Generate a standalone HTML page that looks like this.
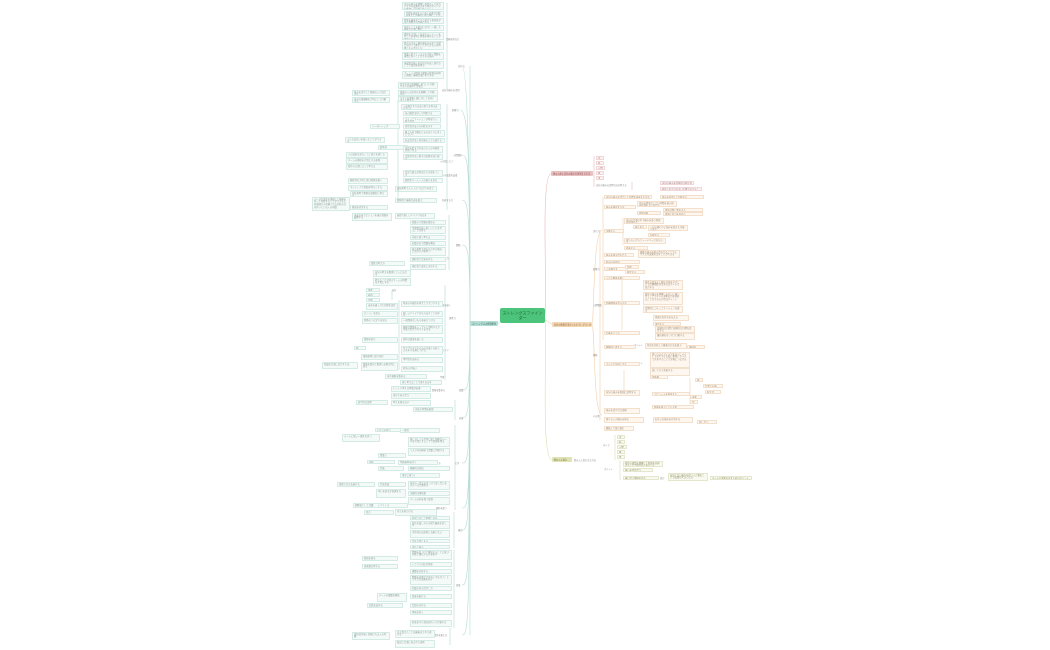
<!DOCTYPE html>
<html><head><meta charset="utf-8">
<style>
html,body{margin:0;padding:0;background:#fff;width:1050px;height:650px;overflow:hidden;position:relative}
svg{position:absolute;left:0;top:0}
text{font-family:"Liberation Sans","Noto Sans CJK JP",sans-serif;fill:#888;font-size:2.2px}
.b{position:absolute;box-sizing:border-box;overflow:hidden;font-family:"Liberation Sans","Noto Sans CJK JP",sans-serif;font-size:2.3px;line-height:2.7px;color:#8a9a96;padding:.5px 1px;border-radius:.6px;word-break:break-all}
.g{background:#f4faf8;border:.4px solid #d3ebe4}
.o{background:#fdf7f0;border:.4px solid #f3e0cc;color:#a08a70}
.r{background:#fcf4f4;border:.4px solid #f0d6d6;color:#a07a7a}
.y{background:#f8f9ef;border:.4px solid #e4e7cb;color:#8a8c60}
.lg{stroke:#b4ddd4;fill:none;stroke-width:.6}
.lo{stroke:#f2cfaa;fill:none;stroke-width:.6}
.lr{stroke:#eab9b9;fill:none;stroke-width:.6}
.ly{stroke:#d9deb0;fill:none;stroke-width:.6}
</style></head><body>
<svg width="1050" height="650" viewBox="0 0 1050 650" xmlns="http://www.w3.org/2000/svg">
<path class="lg" d="M500 323 C485 323 485 323 470 323"/>
<path class="lg" d="M470 66 L470 635"/>
<path class="lg" d="M470 323 C470 200 468 66 462 66 M470 323 C470 150 468 110 460 110 M470 323 C470 160 468 155 462 155 M470 323 C470 210 468 200 462 200 M470 323 C470 250 468 245 462 245 M470 323 C470 390 468 390 462 390 M470 323 C470 415 468 418 462 418 M470 323 C470 463 468 463 462 463 M470 323 C470 508 468 508 462 508 M470 323 C470 530 468 530 462 530 M470 323 C470 582 468 585 462 585 M470 323 C470 635 468 635 462 635"/>
<path class="lg" d="M447 3 L447 90 M398 100 L398 200 M447 104 L447 210 M449 215 L449 270 M445 285 L445 380 M399 300 L399 370 M455 400 L455 420 M455 425 L455 510 M454 512 L454 548 M454 550 L454 628 M450 628 L450 645 M392 290 L392 300"/>
<path class="lr" d="M545 314 C548 300 540 175 551 174"/>
<path class="lr" d="M594 156 L594 187 M632 182 L632 190"/>
<path class="lo" d="M545 320 L552 324"/>
<path class="lo" d="M592 325 C594 325 593 230 602 230 M592 325 C595 325 593 415 602 415 M600 230 L600 420 M603 197 L603 340 M623 218 L623 245 M622 278 L622 330 M624 370 L624 395 M690 378 L690 404"/>
<path class="ly" d="M545 318 C548 330 540 460 552 460"/>
<path class="ly" d="M615 435 L615 460 M620 460 L620 480"/>
<rect x="500" y="308" width="45" height="15" rx="2" fill="#4dc47b"/>
<text x="522.5" y="314.5" text-anchor="middle" style="font-size:4px;fill:#1f5e36">ストレングスファイン</text>
<text x="522.5" y="319.5" text-anchor="middle" style="font-size:4px;fill:#1f5e36">ダー</text>
<rect x="470" y="321" width="28" height="5" rx="1" fill="#b4ddd4"/>
<text x="472" y="324.6" style="fill:#3c6e63">ストレングスの資質解説</text>
<rect x="551" y="171" width="42" height="5" rx="1" fill="#e8c2c2"/>
<text x="553" y="174.5" style="fill:#8a4a4a">他の人達に自分の強みを説明する方法</text>
<rect x="552" y="322" width="40" height="5" rx="1" fill="#f3d8b6"/>
<text x="554" y="325.6" style="fill:#8a5a2a">自分の資質を活かしたどうして行くか</text>
<rect x="552" y="457" width="20" height="5" rx="1" fill="#dfe3b4"/>
<text x="554" y="460.6" style="fill:#6a6e3a">他の人と協力</text>
<g>
<text x="458" y="67">実行力</text><text x="446" y="40">信頼を得る力</text><text x="442" y="91">自分の強みを活用</text><text x="452" y="111">影響力</text><text x="453" y="156">人間関係</text><text x="440" y="162">人の役に立つ</text><text x="442" y="176">人の成長を支援</text><text x="442" y="201">分析する力</text><text x="456" y="246">戦略</text><text x="440" y="259">考える力</text><text x="449" y="319">思考力</text><text x="392" y="291">自分</text><text x="440" y="306">未来を描く</text><text x="440" y="351">アイデア</text><text x="440" y="378">学習</text><text x="432" y="391">情報を集める</text><text x="459" y="391">収集</text><text x="459" y="419">内省</text><text x="455" y="464">公平</text><text x="432" y="464">判断する</text><text x="436" y="509">調和を保つ</text><text x="458" y="531">適応</text><text x="456" y="586">回復</text><text x="440" y="581">問題解決</text><text x="434" y="636">責任を果たす</text>
<text x="593" y="232">実行力</text><text x="593" y="270">影響力</text><text x="593" y="306">人間関係</text><text x="593" y="356">戦略</text><text x="593" y="417">その他</text><text x="634" y="346">ポイント</text><text x="634" y="364">ポイント</text>
<text x="596" y="186">自分の強みの説明方法を考える</text><text x="574" y="461">他の人と協力する方法</text><text x="603" y="446">タイプ</text><text x="604" y="470">ポイント</text><text x="660" y="479">協力</text>
</g>
</svg>
<div class="b g" style="left:402px;top:2px;width:42px;height:8px">自分の強みを理解し周囲の人と協力しながら成果を出すためのポイントを整理して行動に移していく</div>
<div class="b g" style="left:404px;top:11px;width:40px;height:6px">目標を達成するために必要な行動を考えて計画的に取り組むことができる</div>
<div class="b g" style="left:402px;top:18px;width:42px;height:6px">物事を最後までやり遂げる責任感があり周囲から信頼される</div>
<div class="b g" style="left:402px;top:25px;width:42px;height:6px">決めたことを確実に実行し一貫した姿勢で仕事に臨む</div>
<div class="b g" style="left:402px;top:32px;width:42px;height:8px">規律を大切にし日々のルーティンを作って効率的に物事を進めることが得意である</div>
<div class="b g" style="left:402px;top:41px;width:42px;height:9px">集中力が高く優先順位を決めて目標に向かって進むことができる人の特徴とその活かし方</div>
<div class="b g" style="left:402px;top:52px;width:42px;height:8px">慎重に考えてリスクを予測し問題を未然に防ぐことができる強み</div>
<div class="b g" style="left:402px;top:61px;width:42px;height:8px">達成欲が強く毎日何かを成し遂げることで満足感を得る</div>
<div class="b g" style="left:402px;top:71px;width:42px;height:8px">アレンジが得意で複数の物事を同時に調整し最適な形にまとめる</div>
<div class="b g" style="left:398px;top:82px;width:40px;height:7px">信念を持ち価値観に基づいて行動する人の強みと注意点</div>
<div class="b g" style="left:398px;top:90px;width:40px;height:6px">周囲の人の気持ちを理解して行動する</div>
<div class="b g" style="left:398px;top:96px;width:40px;height:6px">公平さを重視し誰に対しても同じように接する</div>
<div class="b g" style="left:352px;top:90px;width:38px;height:6px">強みを活かして周囲の人と協力する</div>
<div class="b g" style="left:352px;top:97px;width:38px;height:6px">自分の価値観を大切にして行動する</div>
<div class="b g" style="left:401px;top:104px;width:40px;height:6px">人を動かす力があり周りを巻き込んでいく</div>
<div class="b g" style="left:403px;top:111px;width:38px;height:5px">自己確信を持って判断する</div>
<div class="b g" style="left:403px;top:117px;width:38px;height:6px">コミュニケーションが得意で人前で話す</div>
<div class="b g" style="left:403px;top:124px;width:38px;height:5px">指令性があり方向性を示す</div>
<div class="b g" style="left:370px;top:124px;width:30px;height:5px">リーダーシップ</div>
<div class="b g" style="left:403px;top:130px;width:42px;height:7px">最上志向で優れたものをさらに良くしていく</div>
<div class="b g" style="left:403px;top:138px;width:42px;height:5px">社交性が高く初対面の人とも話せる</div>
<div class="b g" style="left:345px;top:137px;width:40px;height:6px">人との出会いを楽しむことができる</div>
<div class="b g" style="left:378px;top:145px;width:30px;height:5px">競争性</div>
<div class="b g" style="left:403px;top:146px;width:40px;height:7px">成長を促す力がありの人の可能性を見つける</div>
<div class="b g" style="left:403px;top:154px;width:40px;height:6px">共感性が高く相手の感情を感じ取る</div>
<div class="b g" style="left:346px;top:152px;width:42px;height:6px">人の成長を見ることに喜びを感じる</div>
<div class="b g" style="left:346px;top:158px;width:42px;height:6px">チームの調和を大切にする姿勢</div>
<div class="b g" style="left:346px;top:164px;width:42px;height:6px">相手の立場に立って考える</div>
<div class="b g" style="left:403px;top:170px;width:40px;height:7px">包含で誰もが参加できる場をつくる</div>
<div class="b g" style="left:403px;top:178px;width:40px;height:5px">個別化で一人一人の違いを見る</div>
<div class="b g" style="left:348px;top:178px;width:40px;height:6px">親密性を大切に深い関係を築く</div>
<div class="b g" style="left:348px;top:185px;width:40px;height:6px">ポジティブで周囲を明るくする</div>
<div class="b g" style="left:395px;top:186px;width:42px;height:6px">運命思考で人と人のつながりを信じる</div>
<div class="b g" style="left:350px;top:191px;width:38px;height:6px">分析思考で物事を論理的に考える</div>
<div class="b g" style="left:312px;top:197px;width:38px;height:14px">データや事実を重視して根拠を持って判断することができるため周囲から信頼される分析の力を持っている人の特徴</div>
<div class="b g" style="left:350px;top:205px;width:38px;height:5px">原因を追究する</div>
<div class="b g" style="left:395px;top:198px;width:42px;height:5px">戦略性で最適な道を選ぶ</div>
<div class="b g" style="left:352px;top:213px;width:40px;height:8px">未来志向でビジョンを描き周囲を鼓舞する</div>
<div class="b g" style="left:395px;top:213px;width:40px;height:6px">着想で新しいアイデアを出す</div>
<div class="b g" style="left:410px;top:220px;width:36px;height:5px">収集心で情報を集める</div>
<div class="b g" style="left:410px;top:226px;width:36px;height:8px">学習欲が強く新しいことを学ぶことが好き</div>
<div class="b g" style="left:410px;top:235px;width:36px;height:5px">内省で深く考える</div>
<div class="b g" style="left:410px;top:241px;width:36px;height:5px">回復志向で問題を解決</div>
<div class="b g" style="left:410px;top:247px;width:36px;height:9px">原点思考で過去から学び現在に活かす力を持つ</div>
<div class="b g" style="left:410px;top:257px;width:36px;height:5px">調和性で合意を作る</div>
<div class="b g" style="left:410px;top:264px;width:36px;height:6px">適応性で変化に対応する</div>
<div class="b g" style="left:369px;top:261px;width:36px;height:5px">柔軟な考え方</div>
<div class="b g" style="left:373px;top:270px;width:38px;height:7px">自分の考えを整理して人に伝える</div>
<div class="b g" style="left:373px;top:278px;width:38px;height:8px">考えることが好きで一人の時間を大切にする</div>
<div class="b g" style="left:366px;top:288px;width:14px;height:4px">思考</div>
<div class="b g" style="left:366px;top:293px;width:14px;height:4px">着想</div>
<div class="b g" style="left:366px;top:298px;width:14px;height:4px">学習</div>
<div class="b g" style="left:366px;top:303px;width:32px;height:7px">未来を描く力で目標を設定</div>
<div class="b g" style="left:401px;top:301px;width:42px;height:6px">将来の可能性を考えてワクワクする</div>
<div class="b g" style="left:362px;top:311px;width:36px;height:6px">ビジョンを語る</div>
<div class="b g" style="left:401px;top:311px;width:42px;height:6px">新しいアイデアを生み出すことが好き</div>
<div class="b g" style="left:362px;top:318px;width:36px;height:6px">物事のつながりを見る</div>
<div class="b g" style="left:401px;top:318px;width:42px;height:6px">一見関係ないものを結びつける</div>
<div class="b g" style="left:401px;top:325px;width:42px;height:9px">複雑な問題をシンプルに説明する力がありわかりやすく伝える</div>
<div class="b g" style="left:362px;top:337px;width:36px;height:6px">理論を好む</div>
<div class="b g" style="left:401px;top:337px;width:42px;height:6px">知的な議論を楽しむ</div>
<div class="b g" style="left:354px;top:346px;width:12px;height:4px">例</div>
<div class="b g" style="left:401px;top:346px;width:42px;height:9px">学ぶプロセスそのものを楽しみ新しいスキルを身につける</div>
<div class="b g" style="left:361px;top:354px;width:37px;height:6px">資格取得に取り組む</div>
<div class="b g" style="left:401px;top:357px;width:42px;height:6px">専門性を高める</div>
<div class="b g" style="left:322px;top:362px;width:36px;height:7px">知識を仕事に活かす方法</div>
<div class="b g" style="left:361px;top:362px;width:37px;height:9px">情報を集めて整理し必要な時に使う</div>
<div class="b g" style="left:401px;top:366px;width:42px;height:6px">好奇心が強い</div>
<div class="b g" style="left:385px;top:374px;width:42px;height:5px">本や資料を集める</div>
<div class="b g" style="left:400px;top:380px;width:42px;height:5px">深く考えることで答えを出す</div>
<div class="b g" style="left:391px;top:386px;width:40px;height:6px">じっくり考える時間が必要</div>
<div class="b g" style="left:391px;top:393px;width:40px;height:6px">自分と向き合う</div>
<div class="b g" style="left:356px;top:400px;width:32px;height:5px">哲学的な思考</div>
<div class="b g" style="left:391px;top:400px;width:40px;height:6px">考えを書き出す</div>
<div class="b g" style="left:413px;top:407px;width:40px;height:5px">内省の時間を確保</div>
<div class="b g" style="left:375px;top:428px;width:42px;height:4px">公平さを保つ</div>
<div class="b g" style="left:342px;top:434px;width:38px;height:8px">ルールに従い一貫性を持つ</div>
<div class="b g" style="left:400px;top:428px;width:40px;height:5px">一貫性</div>
<div class="b g" style="left:408px;top:437px;width:42px;height:10px">誰に対しても平等に接し明確なルールを大切にすることで信頼を得る</div>
<div class="b g" style="left:378px;top:453px;width:28px;height:5px">慎重さ</div>
<div class="b g" style="left:408px;top:448px;width:42px;height:8px">リスクを見極めて慎重に判断する</div>
<div class="b g" style="left:367px;top:460px;width:28px;height:4px">決断</div>
<div class="b g" style="left:398px;top:460px;width:40px;height:5px">判断基準を持つ</div>
<div class="b g" style="left:378px;top:466px;width:26px;height:5px">評価</div>
<div class="b g" style="left:408px;top:466px;width:42px;height:5px">客観的な視点</div>
<div class="b g" style="left:400px;top:473px;width:40px;height:5px">事実に基づく</div>
<div class="b g" style="left:337px;top:482px;width:38px;height:5px">周囲と対立を避ける</div>
<div class="b g" style="left:378px;top:482px;width:28px;height:5px">合意形成</div>
<div class="b g" style="left:408px;top:481px;width:42px;height:9px">意見の一致点を見つけて話し合いをスムーズに進める</div>
<div class="b g" style="left:376px;top:489px;width:30px;height:9px">争いを好まず協調する</div>
<div class="b g" style="left:408px;top:491px;width:42px;height:5px">実践的な解決策</div>
<div class="b g" style="left:408px;top:497px;width:42px;height:8px">チームの和を保つ役割</div>
<div class="b g" style="left:353px;top:503px;width:34px;height:5px">調整役として活躍</div>
<div class="b g" style="left:378px;top:503px;width:30px;height:5px">バランス</div>
<div class="b g" style="left:364px;top:510px;width:30px;height:5px">協力</div>
<div class="b g" style="left:395px;top:509px;width:42px;height:7px">対立を和らげる</div>
<div class="b g" style="left:410px;top:516px;width:40px;height:4px">状況に応じて柔軟に対応</div>
<div class="b g" style="left:410px;top:521px;width:40px;height:8px">変化を楽しみその場で最善を尽くす</div>
<div class="b g" style="left:410px;top:530px;width:40px;height:8px">予定外の出来事にも動じない</div>
<div class="b g" style="left:410px;top:539px;width:40px;height:4px">今を大切にする</div>
<div class="b g" style="left:410px;top:545px;width:40px;height:4px">流れに乗る</div>
<div class="b g" style="left:410px;top:550px;width:42px;height:10px">問題を見つけて解決することに喜びを感じ壊れたものを直す</div>
<div class="b g" style="left:362px;top:556px;width:36px;height:5px">原因を探る</div>
<div class="b g" style="left:362px;top:564px;width:36px;height:5px">改善策を考える</div>
<div class="b g" style="left:410px;top:562px;width:42px;height:5px">トラブル対応が得意</div>
<div class="b g" style="left:410px;top:569px;width:42px;height:5px">課題を分析する</div>
<div class="b g" style="left:410px;top:575px;width:42px;height:10px">問題を放置せず早めに手を打つことで大きな失敗を防ぐ</div>
<div class="b g" style="left:410px;top:586px;width:42px;height:5px">回復志向の活かし方</div>
<div class="b g" style="left:377px;top:593px;width:30px;height:9px">チームの課題を解決</div>
<div class="b g" style="left:410px;top:594px;width:42px;height:5px">改善を続ける</div>
<div class="b g" style="left:367px;top:603px;width:36px;height:5px">品質を高める</div>
<div class="b g" style="left:410px;top:603px;width:42px;height:5px">仕組みを作る</div>
<div class="b g" style="left:410px;top:610px;width:42px;height:5px">再発を防ぐ</div>
<div class="b g" style="left:410px;top:620px;width:42px;height:7px">約束を守り責任を持って行動する</div>
<div class="b g" style="left:352px;top:632px;width:38px;height:8px">責任感が強く信頼される人の特徴</div>
<div class="b g" style="left:395px;top:630px;width:40px;height:8px">引き受けたことは最後までやり遂げる</div>
<div class="b g" style="left:395px;top:640px;width:40px;height:8px">誠実に仕事に向き合う姿勢</div>
<div class="b r" style="left:596px;top:156px;width:8px;height:4px">実行</div>
<div class="b r" style="left:596px;top:161px;width:8px;height:4px">影響</div>
<div class="b r" style="left:596px;top:166px;width:9px;height:4px">人間関係</div>
<div class="b r" style="left:596px;top:171px;width:8px;height:4px">戦略</div>
<div class="b r" style="left:596px;top:176px;width:8px;height:4px">思考</div>
<div class="b r" style="left:660px;top:181px;width:34px;height:4px">自分の強みを具体的な例で説明する</div>
<div class="b r" style="left:660px;top:187px;width:42px;height:4px">相手にわかりやすい言葉で伝えることが大切</div>
<div class="b o" style="left:604px;top:195px;width:48px;height:4px">自分の強みを活かして目標を達成する方法</div>
<div class="b o" style="left:660px;top:195px;width:44px;height:4px">強みを意識して行動する</div>
<div class="b o" style="left:604px;top:205px;width:32px;height:4px">強みを伸ばす方法</div>
<div class="b o" style="left:637px;top:201px;width:40px;height:6px">自分の得意なことに時間を使い弱みは他の人に任せる</div>
<div class="b o" style="left:663px;top:208px;width:40px;height:4px">得意分野に集中する</div>
<div class="b o" style="left:663px;top:212px;width:40px;height:4px">周囲に協力を求める</div>
<div class="b o" style="left:637px;top:211px;width:24px;height:4px">役割分担</div>
<div class="b o" style="left:604px;top:229px;width:20px;height:4px">実践する</div>
<div class="b o" style="left:624px;top:218px;width:40px;height:6px">毎日の仕事の中で強みを使う場面を意識する</div>
<div class="b o" style="left:633px;top:225px;width:14px;height:4px">振り返り</div>
<div class="b o" style="left:648px;top:225px;width:40px;height:6px">一日の終わりに強みを使えたか振り返る</div>
<div class="b o" style="left:648px;top:233px;width:22px;height:4px">記録する</div>
<div class="b o" style="left:624px;top:238px;width:42px;height:6px">周りの人からフィードバックをもらう</div>
<div class="b o" style="left:624px;top:246px;width:24px;height:4px">改善する</div>
<div class="b o" style="left:604px;top:253px;width:30px;height:4px">強みを組み合わせる</div>
<div class="b o" style="left:638px;top:250px;width:42px;height:8px">複数の強みを組み合わせることでより大きな成果を出すことができる</div>
<div class="b o" style="left:604px;top:260px;width:36px;height:4px">弱みの対処法</div>
<div class="b o" style="left:604px;top:267px;width:24px;height:4px">人を動かす</div>
<div class="b o" style="left:625px;top:265px;width:14px;height:4px">説得</div>
<div class="b o" style="left:625px;top:270px;width:20px;height:4px">発信する</div>
<div class="b o" style="left:604px;top:276px;width:36px;height:4px">人との関係を築く</div>
<div class="b o" style="left:604px;top:301px;width:36px;height:4px">信頼関係を作る方法</div>
<div class="b o" style="left:643px;top:280px;width:40px;height:10px">相手の話をよく聞き共感を示すことで信頼関係が生まれるチームで協力する</div>
<div class="b o" style="left:643px;top:292px;width:40px;height:13px">相手の強みを理解しお互いに補い合うことでチーム全体の力を高めることができる大切なポイント</div>
<div class="b o" style="left:643px;top:306px;width:40px;height:7px">定期的にコミュニケーションを取る</div>
<div class="b o" style="left:653px;top:315px;width:36px;height:6px">感謝の気持ちを伝える</div>
<div class="b o" style="left:653px;top:322px;width:28px;height:4px">承認する</div>
<div class="b o" style="left:604px;top:331px;width:36px;height:4px">計画を立てる</div>
<div class="b o" style="left:655px;top:326px;width:40px;height:7px">長期的な目標と短期的な目標を設定する</div>
<div class="b o" style="left:655px;top:333px;width:40px;height:7px">優先順位をつけて行動する</div>
<div class="b o" style="left:604px;top:345px;width:32px;height:4px">戦略的に考える</div>
<div class="b o" style="left:645px;top:343px;width:42px;height:6px">状況を分析して最適な方法を選ぶ</div>
<div class="b o" style="left:687px;top:345px;width:18px;height:4px">選択肢</div>
<div class="b o" style="left:604px;top:362px;width:36px;height:4px">アイデアを形にする</div>
<div class="b o" style="left:650px;top:352px;width:40px;height:16px">思いついたアイデアをすぐにメモして実行できる形に整理しチームで共有することで実現につなげる</div>
<div class="b o" style="left:650px;top:368px;width:40px;height:8px">試してみて改善する</div>
<div class="b o" style="left:604px;top:390px;width:36px;height:6px">自分の強みを周囲に説明する</div>
<div class="b o" style="left:650px;top:375px;width:18px;height:4px">具体例</div>
<div class="b o" style="left:652px;top:392px;width:38px;height:4px">エピソードを用意する</div>
<div class="b o" style="left:695px;top:378px;width:8px;height:4px">強み</div>
<div class="b o" style="left:703px;top:384px;width:20px;height:4px">仕事での例</div>
<div class="b o" style="left:705px;top:390px;width:16px;height:4px">私生活</div>
<div class="b o" style="left:690px;top:395px;width:12px;height:4px">成果</div>
<div class="b o" style="left:690px;top:400px;width:8px;height:4px">学び</div>
<div class="b o" style="left:604px;top:408px;width:36px;height:6px">強みを活かせる環境</div>
<div class="b o" style="left:652px;top:405px;width:42px;height:4px">環境を選ぶことも大切</div>
<div class="b o" style="left:604px;top:417px;width:40px;height:6px">周りの人の強みを知る</div>
<div class="b o" style="left:653px;top:417px;width:40px;height:6px">お互いの強みを共有する</div>
<div class="b o" style="left:697px;top:420px;width:20px;height:4px">話し合う</div>
<div class="b o" style="left:604px;top:426px;width:30px;height:5px">継続して取り組む</div>
<div class="b y" style="left:617px;top:435px;width:8px;height:4px">実行</div>
<div class="b y" style="left:617px;top:440px;width:8px;height:4px">影響</div>
<div class="b y" style="left:617px;top:445px;width:10px;height:4px">人間関係</div>
<div class="b y" style="left:617px;top:450px;width:8px;height:4px">戦略</div>
<div class="b y" style="left:617px;top:455px;width:8px;height:4px">思考</div>
<div class="b y" style="left:623px;top:461px;width:40px;height:6px">相手の資質を理解して役割を分担することで協力がうまくいく</div>
<div class="b y" style="left:623px;top:468px;width:30px;height:4px">違いを認め合う</div>
<div class="b y" style="left:623px;top:476px;width:36px;height:4px">補い合う関係を作る</div>
<div class="b y" style="left:668px;top:473px;width:40px;height:8px">自分にない強みを持つ人と組むことで成果が大きくなる</div>
<div class="b y" style="left:710px;top:476px;width:42px;height:4px">チームで成果を出すためのポイント</div>
</body></html>
